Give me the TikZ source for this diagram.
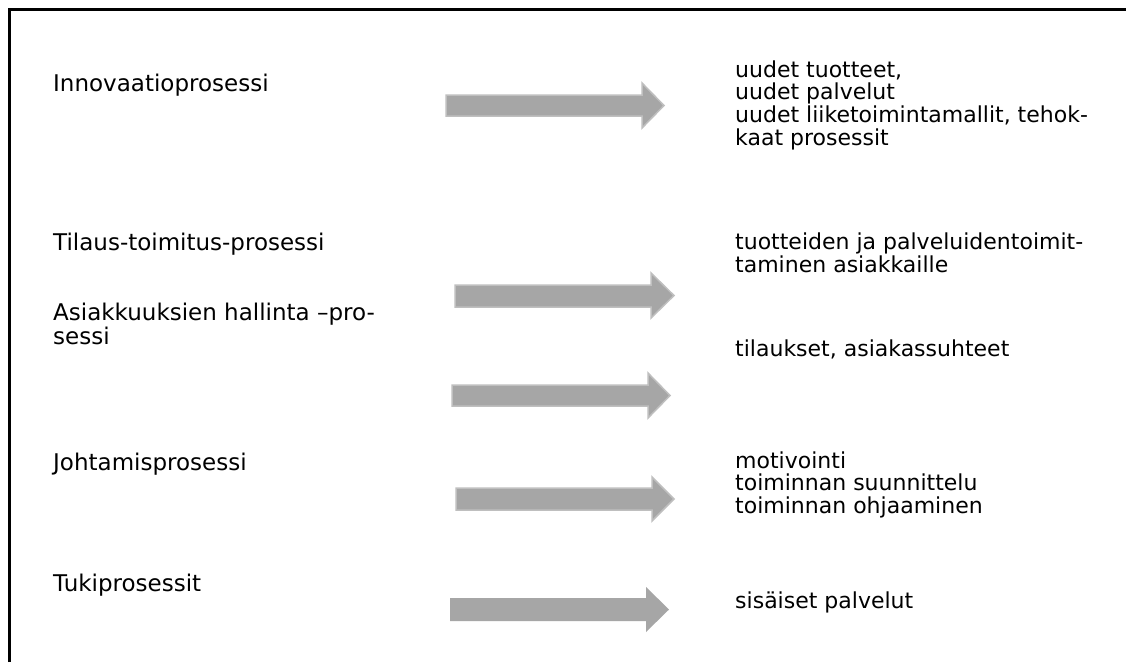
\documentclass[tikz,border=0pt]{standalone}
\usepackage{fontspec}
\setmainfont{DejaVu Sans}
\definecolor{arrfill}{HTML}{A6A6A6}
\definecolor{arredge}{HTML}{BFBFBF}
\tikzset{
  lefttxt/.style={anchor=base west, inner sep=0pt, align=left, font=\fontsize{23}{23.3}\selectfont},
  righttxt/.style={anchor=base west, inner sep=0pt, align=left, font=\fontsize{22}{22.8}\selectfont},
  blockarrow/.style={fill=arrfill, draw=arredge, line width=1.5pt, line join=miter},
  plainarrow/.style={fill=arrfill}
}
\begin{document}
\begin{tikzpicture}[x=1pt,y=-1pt]
\useasboundingbox (0,0) rectangle (1126,662);
\fill[white] (0,0) rectangle (1126,662);
% frame
\draw[line width=2.7pt] (9.5,662) -- (9.5,9.5) -- (1126,9.5);

% left labels (base anchor = baseline of last line)
\node[lefttxt] (l1) at (53,91) {Innovaatioprosessi};
\node[lefttxt] (l2) at (53,250) {Tilaus-toimitus-prosessi};
\node[lefttxt] (l3) at (53,344) {Asiakkuuksien hallinta –pro-\\sessi};
\node[lefttxt] (l4) at (53,470) {Johtamisprosessi};
\node[lefttxt] (l5) at (53,591) {Tukiprosessit};

% right labels (base anchor = baseline of last line)
\node[righttxt] (r1) at (735,145.4) {uudet tuotteet,\\uudet palvelut\\uudet liiketoimintamallit, tehok-\\kaat prosessit};
\node[righttxt] (r2) at (735,272) {tuotteiden ja palveluidentoimit-\\taminen asiakkaille};
\node[righttxt] (r3) at (735,356) {tilaukset, asiakassuhteet};
\node[righttxt] (r4) at (735,513.6) {motivointi\\toiminnan suunnittelu\\toiminnan ohjaaminen};
\node[righttxt] (r5) at (735,608) {sisäiset palvelut};

% block arrows
\draw[blockarrow] (446,95) -- (642,95) -- (642,83) -- (664,105.5) -- (642,128) -- (642,116) -- (446,116) -- cycle;
\draw[blockarrow] (455,285) -- (651,285) -- (651,273) -- (674,295.5) -- (651,318) -- (651,307) -- (455,307) -- cycle;
\draw[blockarrow] (452,385) -- (648,385) -- (648,373) -- (670,395.5) -- (648,418) -- (648,406) -- (452,406) -- cycle;
\draw[blockarrow] (456,488) -- (652,488) -- (652,477) -- (674,499) -- (652,521) -- (652,510) -- (456,510) -- cycle;
\fill[plainarrow] (450,598) -- (646,598) -- (646,587) -- (669,609.5) -- (646,632) -- (646,621) -- (450,621) -- cycle;
\end{tikzpicture}
\end{document}
